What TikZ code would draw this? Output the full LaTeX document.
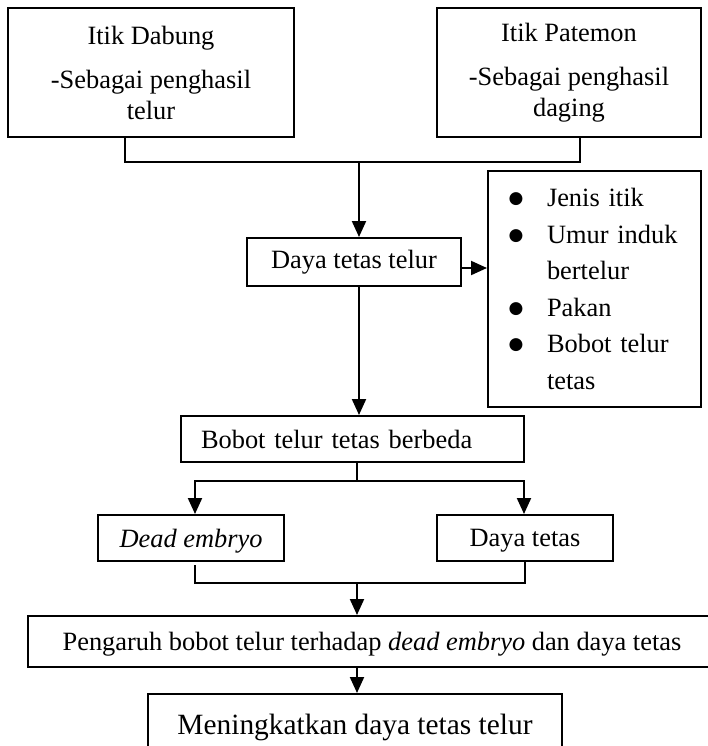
\documentclass[tikz,border=0pt]{standalone}
\usepackage{fontspec}
\setmainfont{Liberation Serif}
\newfontfamily\symfont{DejaVu Sans}
\usetikzlibrary{arrows.meta, calc}

\newcommand{\bitem}{\makebox[19.5pt][l]{\hspace{0.3pt}\raisebox{1.5pt}{\symfont\fontsize{8.5}{10}\selectfont ●}}}

\begin{document}
\begin{tikzpicture}[
    x=0.5pt, y=-0.5pt,
    % Box: plain rectangle with black border
    box/.style={
        rectangle, draw=black, line width=1pt,
        inner sep=0pt, align=center,
        font=\fontsize{13.2}{15.5}\selectfont
    },
    % Arrow between boxes
    arr/.style={-{Triangle[width=7pt, length=8pt]}, line width=1pt, black},
    % Connector without tip
    link/.style={line width=1pt, black},
    thinlink/.style={line width=0.65pt, black},
]

\useasboundingbox (0,0) rectangle (708,746);
\clip (0,0) rectangle (708,746);

% ============================================================
% TOP: the two breeds
% ============================================================
\node[box, minimum width=143pt, minimum height=64.5pt] (dabung) at (151, 72.5)
    {Itik Dabung\\[6.5pt]-Sebagai penghasil\\telur};
\node[box, minimum width=132pt, minimum height=64.5pt] (patemon) at (569, 72.5)
    {Itik Patemon\\[6.5pt]-Sebagai penghasil\\daging};

% ============================================================
% MIDDLE: hatchability and its factors
% ============================================================
\node[box, minimum width=107pt, minimum height=24pt] (daya) at (354, 262)
    {Daya tetas telur};
\node[box, minimum width=106.5pt, minimum height=118pt, inner xsep=10pt,
      text width=86.5pt, align=left,
      font=\fontsize{13.2}{18.3}\selectfont] (faktor) at (594.5, 289)
    {\bitem Jenis itik\\
     \bitem Umur induk\\
     \hspace*{19.5pt}bertelur\\
     \bitem Pakan\\
     \bitem Bobot telur\\
     \hspace*{19.5pt}tetas};

\node[box, minimum height=23pt, inner xsep=10pt, text width=151.5pt,
      align=left, text depth=0pt] (bobot) at (352.5, 439)
    {Bobot telur tetas berbeda};

% Level: the two outcomes
\node[box, minimum width=93pt, minimum height=23pt, text depth=0pt] (dead) at (191, 538)
    {\textit{Dead embryo}};
\node[box, minimum width=88pt, minimum height=23pt, text depth=0pt] (dayatetas) at (525, 538)
    {Daya tetas};

% ============================================================
% BOTTOM
% ============================================================
\node[box, minimum width=344pt, minimum height=25.5pt, text depth=0pt] (pengaruh) at (372, 641.5)
    {Pengaruh bobot telur terhadap \textit{dead embryo} dan daya tetas};
\node[box, minimum width=207pt, minimum height=33pt,
      font=\fontsize{14.7}{17}\selectfont] (final) at (355, 727)
    {Meningkatkan daya tetas telur};

% ============================================================
% CONNECTORS
% ============================================================
\coordinate (jl) at (125, 162);
\coordinate (jm) at (359, 162);
\coordinate (jr) at (580, 162);
\draw[link] (dabung.south -| jl) -- (jl) -- (jr) -- (patemon.south -| jr);
\draw[arr] (jm) -- (daya.north -| jm);

\coordinate (dr) at ($(daya.east)+(0,6)$);
\draw[arr] (dr) -- (dr -| faktor.west);
\draw[arr] (daya.south -| jm) -- (bobot.north -| jm);

% split to the two outcomes
\coordinate (sm) at (357, 481);
\coordinate (sl) at (195, 481);
\coordinate (sr) at (524, 481);
\draw[link] (bobot.south -| sm) -- (sm);
\draw[arr] (sm) -- (sl) -- (dead.north -| sl);
\draw[arr] (sm) -- (sr) -- (dayatetas.north -| sr);

% merge back
\coordinate (ml) at (195, 583);
\coordinate (mm) at (357, 583);
\coordinate (mr) at (525, 583);
\draw[thinlink, shorten <=1.5pt] (dead.south -| ml) -- (ml) -- (mr) -- (dayatetas.south -| mr);
\draw[arr] (mm) -- (pengaruh.north -| mm);
\draw[arr] (pengaruh.south -| mm) -- (final.north -| mm);

\end{tikzpicture}
\end{document}
